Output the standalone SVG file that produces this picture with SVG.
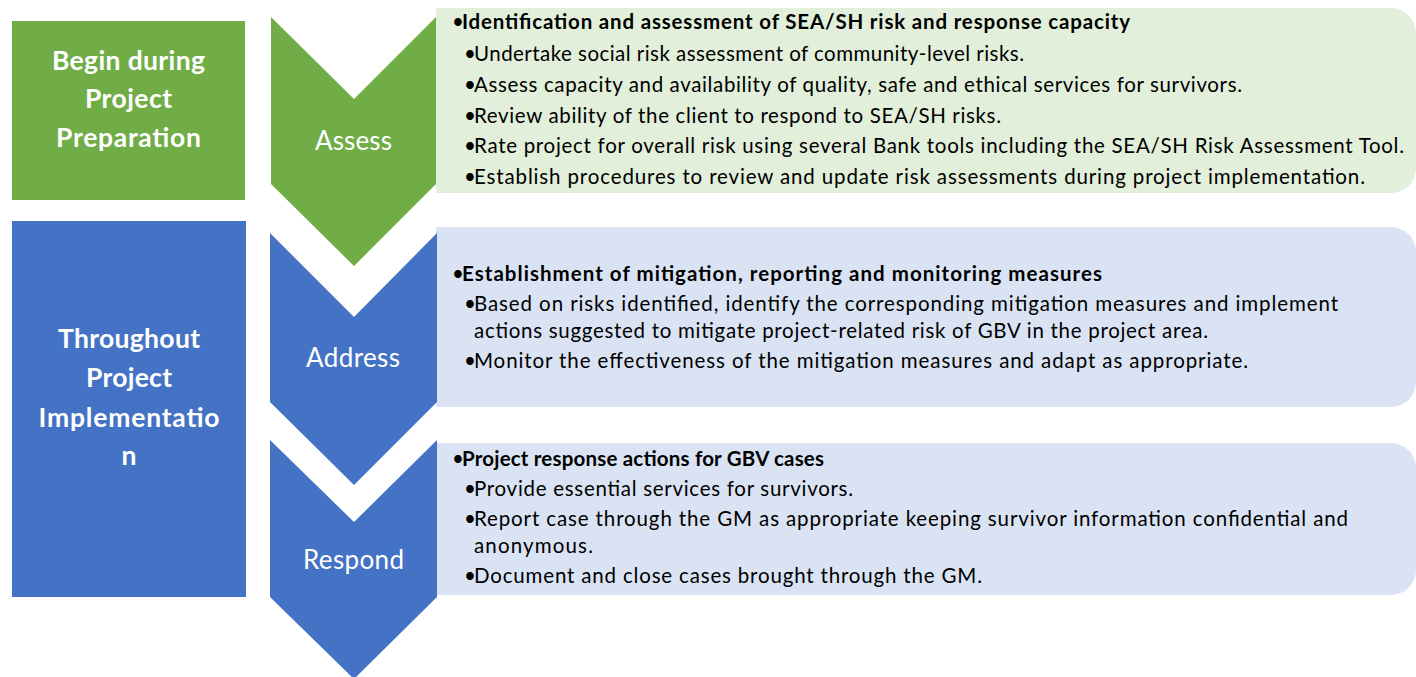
<svg xmlns="http://www.w3.org/2000/svg" width="1416" height="677" viewBox="0 0 1416 677">
<style>
.lbl{font-family:Lato,"Liberation Sans",sans-serif;font-weight:bold;font-size:26.5px;fill:#fff;text-anchor:middle}
.chv{font-family:Lato,"Liberation Sans",sans-serif;font-size:26px;fill:#fff;text-anchor:middle}
.t{font-family:Lato,"Liberation Sans",sans-serif;font-size:20.5px;fill:#000}
.b{font-weight:bold}
.green{fill:#70AD47}
.blue{fill:#4472C4}
.lg{fill:#E2EFDA}
.lb{fill:#DAE3F3}
</style>
<rect width="1416" height="677" fill="#fff"/>
<g id="phase-preparation">
<rect class="green" x="12" y="21" width="233" height="179"/>
<text class="lbl" x="128.5" y="70" textLength="153">Begin during</text>
<text class="lbl" x="128.5" y="108" textLength="87">Project</text>
<text class="lbl" x="128.5" y="147" textLength="145">Preparation</text>
</g>
<g id="phase-implementation">
<rect class="blue" x="12" y="221" width="234" height="376"/>
<text class="lbl" x="129" y="348" textLength="142">Throughout</text>
<text class="lbl" x="129" y="387" textLength="86">Project</text>
<text class="lbl" x="129" y="427" textLength="181">Implementatio</text>
<text class="lbl" x="129" y="465">n</text>
</g>
<g id="assess-box">
<path class="lg" d="M436,8 H1391 A25,25 0 0 1 1416,33 V168 A25,25 0 0 1 1391,193 H436 Z"/>
<text class="t" x="452" y="29">•</text>
<text class="t b" x="462" y="29" textLength="668">Identification and assessment of SEA/SH risk and response capacity</text>
<text class="t" x="464" y="61">•</text>
<text class="t" x="474" y="61" textLength="550">Undertake social risk assessment of community-level risks.</text>
<text class="t" x="464" y="92">•</text>
<text class="t" x="474" y="92" textLength="768">Assess capacity and availability of quality, safe and ethical services for survivors.</text>
<text class="t" x="464" y="123">•</text>
<text class="t" x="474" y="123" textLength="527">Review ability of the client to respond to SEA/SH risks.</text>
<text class="t" x="464" y="153">•</text>
<text class="t" x="474" y="153" textLength="930">Rate project for overall risk using several Bank tools including the SEA/SH Risk Assessment Tool.</text>
<text class="t" x="464" y="184">•</text>
<text class="t" x="474" y="184" textLength="891">Establish procedures to review and update risk assessments during project implementation.</text>
</g>
<g id="address-box">
<path class="lb" d="M436,227 H1391 A25,25 0 0 1 1416,252 V382 A25,25 0 0 1 1391,407 H436 Z"/>
<text class="t" x="452" y="281">•</text>
<text class="t b" x="462" y="281" textLength="640">Establishment of mitigation, reporting and monitoring measures</text>
<text class="t" x="464" y="311">•</text>
<text class="t" x="474" y="311" textLength="864">Based on risks identified, identify the corresponding mitigation measures and implement</text>
<text class="t" x="474" y="338" textLength="734">actions suggested to mitigate project-related risk of GBV in the project area.</text>
<text class="t" x="464" y="368">•</text>
<text class="t" x="474" y="368" textLength="774">Monitor the effectiveness of the mitigation measures and adapt as appropriate.</text>
</g>
<g id="respond-box">
<path class="lb" d="M436,443 H1391 A25,25 0 0 1 1416,468 V570 A25,25 0 0 1 1391,595 H436 Z"/>
<text class="t" x="452" y="466">•</text>
<text class="t b" x="462" y="466" textLength="362">Project response actions for GBV cases</text>
<text class="t" x="464" y="496">•</text>
<text class="t" x="474" y="496" textLength="379">Provide essential services for survivors.</text>
<text class="t" x="464" y="526">•</text>
<text class="t" x="474" y="526" textLength="874">Report case through the GM as appropriate keeping survivor information confidential and</text>
<text class="t" x="474" y="553" textLength="119">anonymous.</text>
<text class="t" x="464" y="583">•</text>
<text class="t" x="474" y="583" textLength="508">Document and close cases brought through the GM.</text>
</g>
<g id="assess">
<path class="green" d="M271,17 L354,99 L436,17 L436,184 L354,266 L271,184 Z"/>
<text class="chv" x="353.5" y="150" textLength="77">Assess</text>
</g>
<g id="address">
<path class="blue" d="M270,233 L354,317 L437,233 L437,402 L354,485 L270,402 Z"/>
<text class="chv" x="353" y="367" textLength="94">Address</text>
</g>
<g id="respond">
<path class="blue" d="M270,440 L354,522 L437,440 L437,597 L354,679 L270,597 Z"/>
<text class="chv" x="353.5" y="569" textLength="101">Respond</text>
</g>
<g id="connectors"/>
</svg>
